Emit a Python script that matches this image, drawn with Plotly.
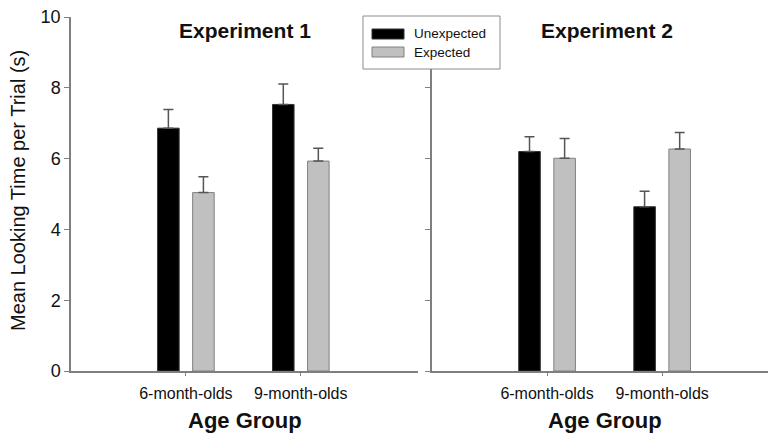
import plotly.graph_objects as go

# Mean looking time per trial (s) and standard errors, by experiment and age group
age_groups = ["6-month-olds", "9-month-olds"]
conditions = ["Unexpected", "Expected"]

exp1_unexpected = [6.86, 7.53]
exp1_unexpected_se = [0.53, 0.58]
exp1_expected = [5.04, 5.93]
exp1_expected_se = [0.45, 0.36]

exp2_unexpected = [6.20, 4.64]
exp2_unexpected_se = [0.42, 0.44]
exp2_expected = [6.01, 6.27]
exp2_expected_se = [0.56, 0.47]

y_ticks = [0, 2, 4, 6, 8, 10]

FONT = "Liberation Sans, Arial, sans-serif"
AXIS_GRAY = "#7f7f7f"
ERR_GRAY = "#555555"
TEXT = "#111111"
W, H = 768, 435


def px_x(v):
    return v / W


def px_y(v):
    return (H - v) / H


styles = {
    "Unexpected": dict(color="#000000", line=dict(color="#333333", width=1)),
    "Expected": dict(color="#c0c0c0", line=dict(color="#808080", width=1)),
}

fig = go.Figure()

panels = [
    ("x", "y", exp1_unexpected, exp1_unexpected_se, exp1_expected, exp1_expected_se),
    ("x2", "y2", exp2_unexpected, exp2_unexpected_se, exp2_expected, exp2_expected_se),
]
for xa, ya, unexp, unexp_se, exp, exp_se in panels:
    for name, vals, se in [("Unexpected", unexp, unexp_se), ("Expected", exp, exp_se)]:
        fig.add_trace(go.Bar(
            x=age_groups, y=vals, name=name, xaxis=xa, yaxis=ya,
            marker=styles[name], showlegend=False,
            error_y=dict(type="data", symmetric=False, array=se,
                         arrayminus=[0] * len(se), color=ERR_GRAY,
                         thickness=1.5, width=5),
        ))

common_x = dict(
    type="category", showline=True, linecolor=AXIS_GRAY, linewidth=1.5,
    ticks="outside", ticklen=3, tickcolor=AXIS_GRAY, tickwidth=1,
    ticklabelstandoff=4,
    tickfont=dict(family=FONT, size=16, color=TEXT),
    showgrid=False, zeroline=False, fixedrange=True, automargin=False,
)
common_y = dict(
    range=[0, 10], tickvals=y_ticks, showline=True, linecolor=AXIS_GRAY,
    linewidth=1.5, ticks="outside", ticklen=5, tickcolor=AXIS_GRAY,
    tickwidth=1, showgrid=False, zeroline=False, automargin=False,
    domain=[px_y(371), px_y(17)],
    tickfont=dict(family=FONT, size=18, color=TEXT),
)

fig.update_layout(
    width=W, height=H,
    margin=dict(l=0, r=0, t=0, b=0, pad=0),
    paper_bgcolor="white", plot_bgcolor="white",
    barmode="group", bargap=0.39, bargroupgap=0.385,
    showlegend=False,
    xaxis=dict(common_x, domain=[px_x(71), px_x(418)], range=[-1, 2.02]),
    xaxis2=dict(common_x, domain=[px_x(432), 1.0], range=[-1, 1.92]),
    yaxis=dict(common_y, anchor="x"),
    yaxis2=dict(common_y, anchor="x2", showticklabels=False),
)

annotations = [
    dict(text="<b>Experiment 1</b>", x=px_x(245), y=px_y(31), size=21),
    dict(text="<b>Experiment 2</b>", x=px_x(607), y=px_y(31), size=21),
    dict(text="<b>Age Group</b>", x=px_x(245), y=px_y(420), size=22),
    dict(text="<b>Age Group</b>", x=px_x(605), y=px_y(420), size=22),
]
for a in annotations:
    fig.add_annotation(text=a["text"], x=a["x"], y=a["y"], xref="paper",
                       yref="paper", showarrow=False, xanchor="center",
                       yanchor="middle",
                       font=dict(family=FONT, size=a["size"], color=TEXT))

fig.add_annotation(text="Mean Looking Time per Trial (s)", x=px_x(18),
                   y=px_y(191), xref="paper", yref="paper", showarrow=False,
                   textangle=-90, xanchor="center", yanchor="middle",
                   font=dict(family=FONT, size=20, color=TEXT))

# Legend box drawn in paper coordinates
fig.add_shape(type="rect", xref="paper", yref="paper",
              x0=px_x(363), x1=px_x(500), y0=px_y(69), y1=px_y(16),
              line=dict(color="#8c8c8c", width=1), fillcolor="white")
legend_rows = [("Unexpected", 34), ("Expected", 52)]
for name, yc in legend_rows:
    st = styles[name]
    fig.add_shape(type="rect", xref="paper", yref="paper",
                  x0=px_x(372), x1=px_x(404), y0=px_y(yc + 5), y1=px_y(yc - 5),
                  fillcolor=st["color"], line=dict(color=st["line"]["color"], width=1))
    fig.add_annotation(text=name, x=px_x(412), y=px_y(yc), xref="paper",
                       yref="paper", showarrow=False, xanchor="left",
                       yanchor="middle",
                       font=dict(family=FONT, size=13.5, color=TEXT))

fig.write_html("out.html")
